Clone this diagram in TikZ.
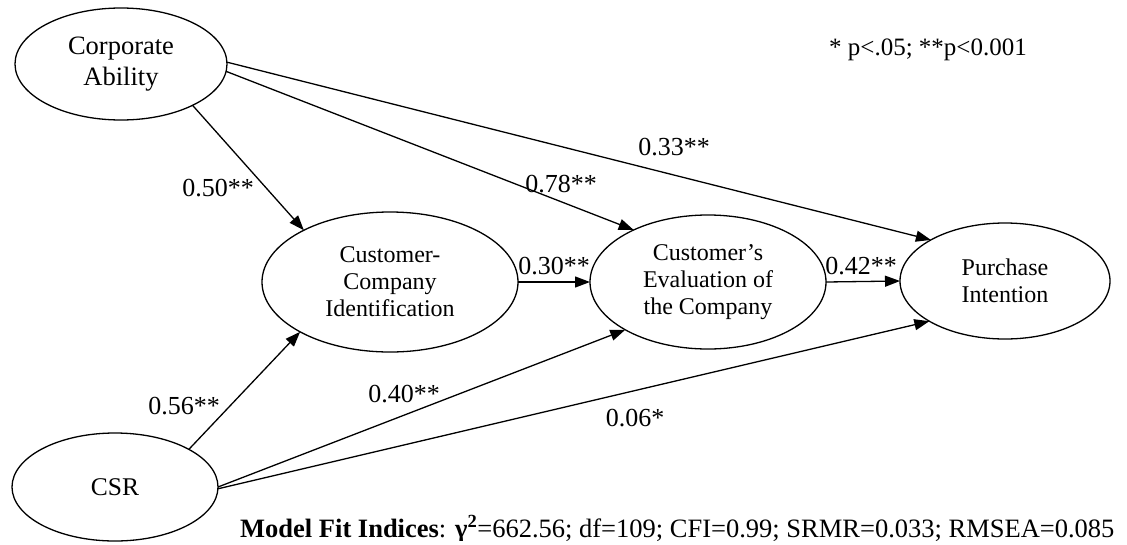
\documentclass[tikz,border=0pt]{standalone}
\usepackage{fontspec}
\setmainfont{Liberation Serif}
\usetikzlibrary{shapes.geometric,arrows.meta}
\begin{document}
\begin{tikzpicture}[x=1pt,y=-1pt,
  lat/.style={ellipse,draw,line width=1.3pt,inner sep=0pt,outer sep=0pt,align=center,
    font=\fontsize{24}{27}\selectfont},
  path/.style={line width=1.3pt,-{Triangle[length=15pt,width=11pt]}},
  coef/.style={font=\fontsize{26}{29}\selectfont,inner sep=0pt}]
\useasboundingbox (0,0) rectangle (1127,544);
\node[lat,minimum width=212pt,minimum height=112pt,font=\fontsize{26.5}{31}\selectfont] (ca) at (121,64) {Corporate\\Ability};
\node[lat,minimum width=256pt,minimum height=140pt] (cci) at (390,282) {Customer-\\Company\\Identification};
\node[lat,minimum width=236pt,minimum height=134pt] (ce) at (708,282) {Customer’s\\Evaluation of\\the Company};
\node[lat,minimum width=210pt,minimum height=116pt] (pi) at (1005,281) {Purchase\\Intention};
\node[lat,minimum width=206pt,minimum height=108pt,font=\fontsize{25.5}{29}\selectfont] (csr) at (115,487) {CSR};

\draw[path] (ca.-30) -- (cci.149);
\draw[path] (ca.-4) -- (ce.145);
\draw[path] (ca.1) -- (pi.151);
\draw[path] (cci.east) -- (ce.west);
\draw[path] (ce.east) -- (pi.west);
\draw[path] (csr.27) -- (cci.209);
\draw[path] (csr.east) -- (ce.210);
\draw[path] (csr.-1) -- (pi.208);

\node[coef] (l1) at (218,188) {0.50**};
\node[coef] (l2) at (561,184) {0.78**};
\node[coef] (l3) at (674,147) {0.33**};
\node[coef] (l4) at (554,266) {0.30**};
\node[coef] (l5) at (861,266) {0.42**};
\node[coef] (l6) at (184,406) {0.56**};
\node[coef] (l7) at (404,394) {0.40**};
\node[coef] (l8) at (635,418) {0.06*};
\node[coef,font=\fontsize{25}{28}\selectfont] (sig) at (928,50) {* p<.05; **p<0.001};
\begin{scope}
\clip (0,0) rectangle (1127,540);
\node[coef,anchor=base west,font=\fontsize{26.5}{29}\selectfont] (fit) at (240,537) {\textbf{Model Fit Indices}: \textbf{γ\textsuperscript{2}}=662.56; df=109; CFI=0.99; SRMR=0.033; RMSEA=0.085};
\end{scope}
\end{tikzpicture}
\end{document}
